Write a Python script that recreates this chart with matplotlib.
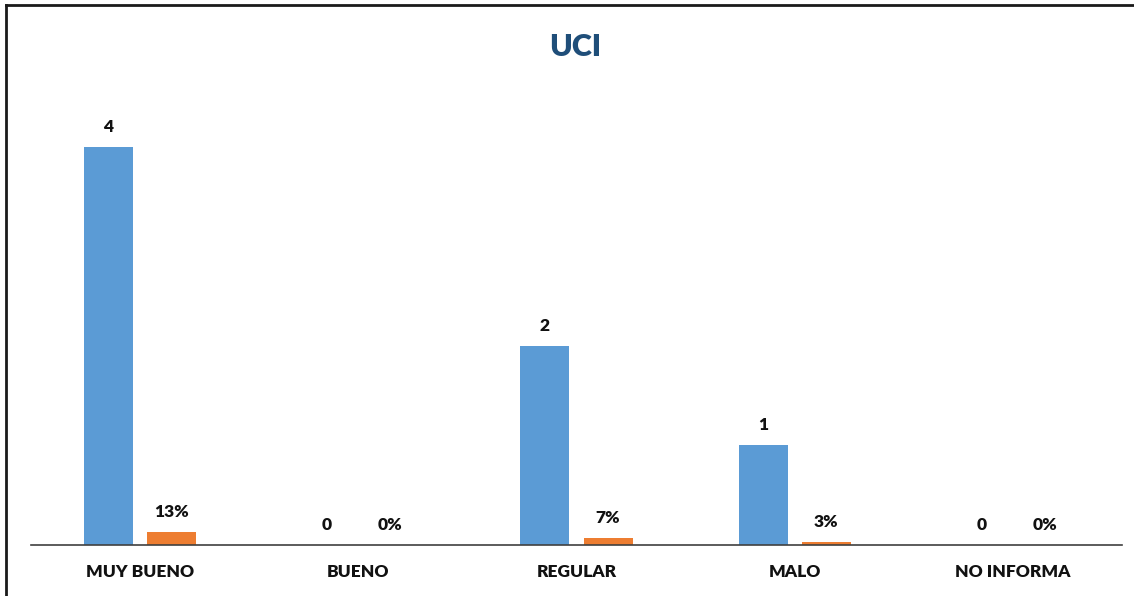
import matplotlib.pyplot as plt
import numpy as np
from matplotlib.lines import Line2D

# -------------------------- Data --------------------------
categories = ['MUY BUENO', 'BUENO', 'REGULAR', 'MALO', 'NO INFORMA']
counts = [4, 0, 2, 1, 0]
percents = [0.13, 0.0, 0.07, 0.03, 0.0]
count_labels = ['4', '0', '2', '1', '0']
percent_labels = ['13%', '0%', '7%', '3%', '0%']

plt.rcParams['font.family'] = ['Lato', 'DejaVu Sans']

# -------------------------- Plotting --------------------------
W, H = 1134, 596
fig = plt.figure(figsize=(W / 100, H / 100), dpi=100)
ax = fig.add_axes([31 / W, (H - 545) / H, 1091 / W, 448 / H])

x = np.arange(len(categories))
width = 0.225
off = 0.145
ax.bar(x - off, counts, width=width, color='#5B9BD5')
ax.bar(x + off, percents, width=width, color='#ED7D31')

# value labels
for i in range(len(categories)):
    ax.text(x[i] - off, counts[i] + 0.12, count_labels[i], ha='center', va='bottom',
            fontsize=12.5, fontweight='heavy', color='#111111')
    ax.text(x[i] + off, percents[i] + 0.12, percent_labels[i], ha='center', va='bottom',
            fontsize=12.5, fontweight='heavy', color='#111111')

ax.set_xlim(-0.5, len(categories) - 0.5)
ax.set_ylim(0, 4.5)
ax.set_xticks(x)
ax.set_xticklabels(categories, fontsize=12.5, fontweight='heavy', color='#111111')
ax.tick_params(axis='x', length=0, pad=14)
ax.set_yticks([])
for s in ['top', 'right', 'left']:
    ax.spines[s].set_visible(False)
ax.spines['bottom'].set_color('#404040')
ax.spines['bottom'].set_linewidth(1.2)

fig.text(575 / W, 1 - 47 / H, 'UCI', ha='center', va='center',
         fontsize=22, fontweight='heavy', color='#1F4E79')

# outer frame (top and left edges visible)
fig.add_artist(Line2D([6 / W, 1.0], [1 - 5 / H, 1 - 5 / H], color='#1a1a1a', lw=2, transform=fig.transFigure))
fig.add_artist(Line2D([6 / W, 6 / W], [0, 1 - 5 / H], color='#1a1a1a', lw=2, transform=fig.transFigure))

fig.savefig('out.png', dpi=100)
